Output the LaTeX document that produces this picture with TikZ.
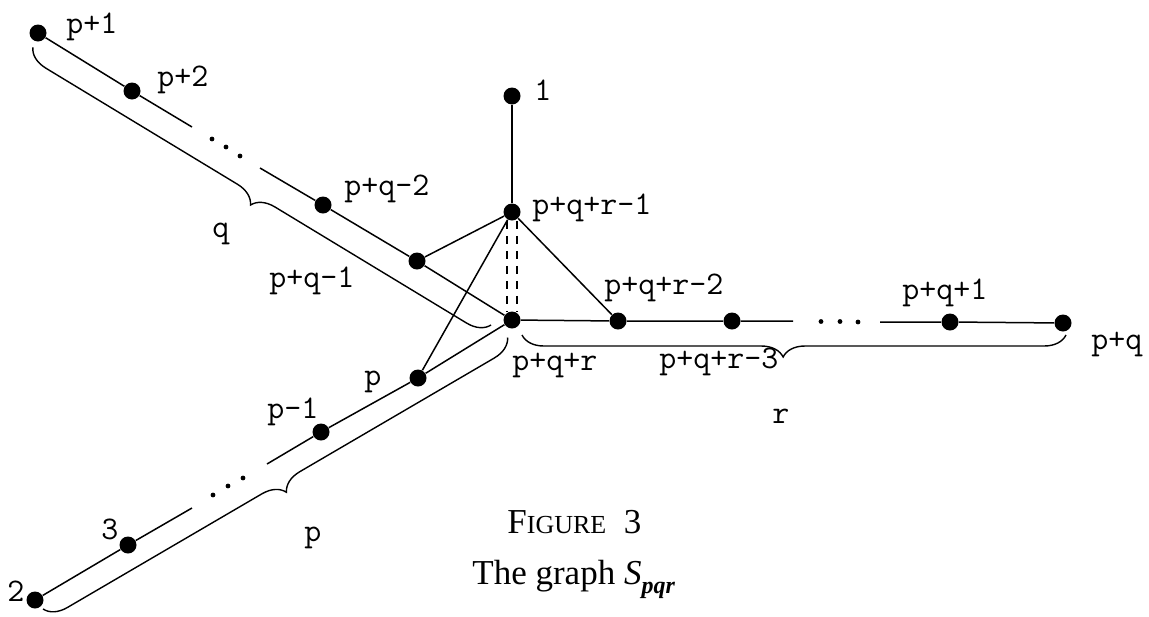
\documentclass[tikz,border=0pt]{standalone}
\usepackage{fontspec}
\setmainfont{Liberation Serif}
\usetikzlibrary{decorations.pathreplacing}
\begin{document}
\begin{tikzpicture}[x=0.5pt,y=-0.5pt,
  vtx/.style={circle,fill=black,inner sep=0pt,minimum size=8.5pt},
  edge/.style={line width=0.75pt},
  lbl/.style={anchor=base west,inner sep=0pt,font=\ttfamily\fontsize{16.5}{16.5}\selectfont},
  captxt/.style={anchor=base west,inner sep=0pt},
  gapdot/.style={circle,fill=black,inner sep=0pt,minimum size=2.4pt},
  brc/.style={line width=0.7pt,decorate,decoration={brace,amplitude=11pt,aspect=#1}},
  brc/.default=0.5,
  dsh/.style={line width=0.6pt,dash pattern=on 4pt off 3.5pt}]
\useasboundingbox (0,0) rectangle (1149,616);

% vertices
\node[vtx] (v1) at (512,96) {};
\node[vtx] (t)  at (512,212) {};
\node[vtx] (c)  at (512,320) {};
\node[vtx] (q1) at (38,33) {};
\node[vtx] (q2) at (132,91) {};
\node[vtx] (q3) at (323,205) {};
\node[vtx] (q4) at (417,261) {};
\node[vtx] (p1) at (35,600) {};
\node[vtx] (p2) at (128,545) {};
\node[vtx] (p3) at (321,432) {};
\node[vtx] (p4) at (418,378) {};
\node[vtx] (r1) at (618,321) {};
\node[vtx] (r2) at (732,321) {};
\node[vtx] (r3) at (950,322) {};
\node[vtx] (r4) at (1063,323) {};

% gap ends
\coordinate (qa) at (192,127);
\coordinate (qb) at (260,168);
\coordinate (pa) at (192,508);
\coordinate (pb) at (267,464);
\coordinate (ra) at (793,321);
\coordinate (rb) at (880,322);

% edges
\draw[edge] (q1) -- (q2) -- (qa);
\draw[edge] (qb) -- (q3) -- (q4) -- (c);
\draw[edge] (p1) -- (p2) -- (pa);
\draw[edge] (pb) -- (p3) -- (p4) -- (c);
\draw[edge] (c) -- (r1) -- (r2) -- (ra);
\draw[edge] (rb) -- (r3) -- (r4);
\draw[edge] (v1) -- (t);
\draw[edge] (t) -- (q4);
\draw[edge] (t) -- (p4);
\draw[edge] (t) -- (r1);
\draw[dsh] ([xshift=-2.5pt]t.south) -- ([xshift=-2.5pt]c.north);
\draw[dsh] ([xshift=2.5pt]t.south) -- ([xshift=2.5pt]c.north);

% ellipsis dots
\node[gapdot] (qd1) at (212,139) {};
\node[gapdot] (qd2) at (226,147) {};
\node[gapdot] (qd3) at (240,156) {};
\node[gapdot] (pd1) at (213,495) {};
\node[gapdot] (pd2) at (228,486) {};
\node[gapdot] (pd3) at (243,478) {};
\node[gapdot] (rd1) at (821,321.5) {};
\node[gapdot] (rd2) at (840,321.5) {};
\node[gapdot] (rd3) at (858,322) {};

% braces
\draw[brc] (491,325) -- (32.8,47.4);
\draw[brc] (507.6,337.5) -- (43,609);
\draw[brc=0.52] (1066,335) -- (522,335);

% labels
\node[lbl] (l1) at (66,33) {p+1};
\node[lbl] (l2) at (157,86) {p+2};
\node[lbl] (l3) at (344,195) {p+q-2};
\node[lbl] (lq) at (212,237) {q};
\node[lbl] (l4) at (269,287) {p+q-1};
\node[lbl] (l5) at (534,100) {1};
\node[lbl] (l6) at (532,214) {p+q+r-1};
\node[lbl] (l7) at (604,294) {p+q+r-2};
\node[lbl] (l8) at (902,299) {p+q+1};
\node[lbl] (l9) at (1091,349) {p+q};
\node[lbl] (l10) at (512,370) {p+q+r};
\node[lbl] (l11) at (659,368) {p+q+r-3};
\node[lbl] (lr) at (772,423) {r};
\node[lbl] (l12) at (364,385) {p};
\node[lbl] (lp) at (304,541) {p};
\node[lbl] (l13) at (267,418) {p-1};
\node[lbl] (l14) at (101,539) {3};
\node[lbl] (l15) at (7,601) {2};

% caption
\node[captxt] (fig) at (507,533) {{\fontsize{17.5}{20}\selectfont F}{\fontsize{13}{15}\selectfont IGURE}\fontsize{17.5}{20}\selectfont\ \ 3};
\node[captxt] (sub) at (472,584) {\fontsize{17.5}{20}\selectfont The graph \textit{S}\raisebox{-4.5pt}{\fontsize{12}{12}\selectfont\bfseries\itshape pqr}};
\end{tikzpicture}
\end{document}
